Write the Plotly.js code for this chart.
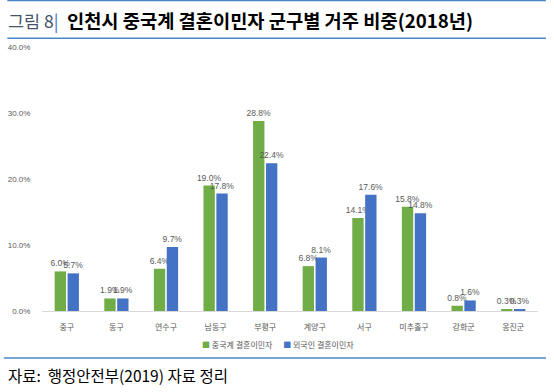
<!DOCTYPE html>
<html><head><meta charset="utf-8">
<script src="https://cdn.plot.ly/plotly-3.0.1.min.js"></script>
<style>html,body{margin:0;padding:0;background:#fff}#c{width:554px;height:392px}</style>
</head><body><div id="c"></div>
<script>
const categories = ["중구","동구","연수구","남동구","부평구","계양구","서구","미추홀구","강화군","옹진군"];
const chineseValues = [6.0,1.9,6.4,19.0,28.8,6.8,14.1,15.8,0.8,0.3];
const foreignValues = [5.7,1.9,9.7,17.8,22.4,8.1,17.6,14.8,1.6,0.3];
const seriesNames = ["중국계 결혼이민자","외국인 결혼이민자"];
const seriesColors = ["#70AD47","#4472C4"];
const yTicks = [0,10,20,30,40];

const font = "'Noto Sans CJK KR', 'Noto Sans', sans-serif";
const numFont = "'Liberation Sans', Arial, sans-serif";
const mk = (name, vals, color) => ({
  type:"bar", name:name, x:categories, y:vals,
  marker:{color:color},
  text: vals.map(v=>v.toFixed(1)+"%"),
  textposition:"outside", cliponaxis:false, constraintext:"none",
  textfont:{size:8.5, color:"#595959", family:numFont},
  hoverinfo:"none", showlegend:false
});
const data = [mk(seriesNames[0], chineseValues, seriesColors[0]), mk(seriesNames[1], foreignValues, seriesColors[1])];

const legendText = seriesNames.map((n,i)=>"<span style='color:"+seriesColors[i]+"'>■</span> "+n).join("      ");

const layout = {
  width:554, height:392,
  margin:{l:42, r:16, t:47, b:81},
  paper_bgcolor:"#fff", plot_bgcolor:"#fff",
  font:{family:font, color:"#595959", size:8},
  barmode:"group", bargap:0.48, bargroupgap:0.12,
  xaxis:{showline:true, linecolor:"#D9D9D9", linewidth:1, ticks:"outside", ticklen:8, tickcolor:"rgba(0,0,0,0)", tickfont:{size:8, color:"#595959"}, showgrid:false},
  yaxis:{range:[0,40], tickvals:yTicks, ticktext:yTicks.map(v=>v.toFixed(1)+"%"), showgrid:false, zeroline:false, showline:false,
         ticks:"outside", ticklen:9, tickcolor:"rgba(0,0,0,0)", tickfont:{size:8, color:"#595959", family:numFont}},
  showlegend:false,
  shapes:[
    {type:"line", xref:"paper", yref:"paper", x0:-0.07, x1:1.016, y0:1.176, y1:1.176, line:{color:"#4A86C8", width:1.5}},
    {type:"line", xref:"paper", yref:"paper", x0:-0.07, x1:1.016, y0:1.0335, y1:1.0335, line:{color:"#4A86C8", width:1.5}},
    {type:"line", xref:"paper", yref:"paper", x0:-0.077, x1:1.016, y0:-0.178, y1:-0.178, line:{color:"#4A86C8", width:1.5}}
  ],
  annotations:[
    {xref:"paper", yref:"paper", x:-0.072, y:1.104, xanchor:"left", yanchor:"middle", showarrow:false,
     text:"<span style='color:#44546A;font-size:17.5px'>그림 8</span><span style='color:#4472C4;font-size:17.5px'>|</span>  <span style='color:#000'><b>인천시 중국계 결혼이민자 군구별 거주 비중(2018년)</b></span>",
     font:{size:18.7, family:font, color:"#000"}},
    {xref:"paper", yref:"paper", x:-0.072, y:-0.244, xanchor:"left", yanchor:"middle", showarrow:false,
     text:"자료:  행정안전부(2019) 자료 정리", font:{size:15.5, family:font, color:"#000"}},
    {xref:"paper", yref:"paper", x:0.475, y:-0.127, xanchor:"center", yanchor:"middle", showarrow:false,
     text:legendText, font:{size:8, family:font, color:"#595959"}}
  ]
};
Plotly.newPlot("c", data, layout, {staticPlot:true, displayModeBar:false});
</script></body></html>
